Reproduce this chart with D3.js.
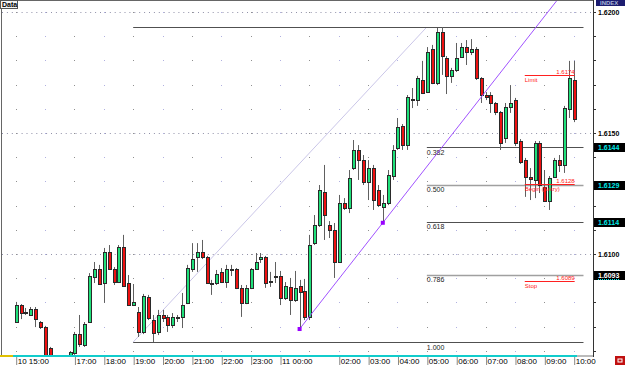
<!DOCTYPE html>
<html lang="en">
<head>
<meta charset="utf-8">
<title>INDEX M10</title>
<script src="https://cdn.jsdelivr.net/npm/d3@7"></script>
<style>
	body{margin:0;background:#fff;}
	svg{display:block;font-family:"Liberation Sans",Arial,sans-serif;}
	.tlabel{font-size:8px;fill:#000;}
	.plabel{font-size:7px;font-weight:bold;fill:#000;}
	.flabel{font-size:7px;fill:#222;}
	.olabel{font-size:6px;fill:#ff2020;}
	.blabel{font-size:7px;font-weight:bold;}
</style>
</head>
<body>
<div class="chart"></div>
<script>
// 10 minute bars, first bar 10th 15:00
var opens = [1.60719,1.60789,1.60760,1.60748,1.60773,1.60719,1.60698,1.60612,1.60521,1.60500,
	1.60512,1.60554,1.60591,1.60669,1.60624,1.60719,1.60905,1.60938,1.60880,1.61008,
	1.60938,1.60884,1.61029,1.60880,1.60789,1.60760,1.60678,1.60822,1.60727,1.60678,
	1.60748,1.60740,1.60707,1.60740,1.60740,1.60798,1.60938,1.60988,1.61008,1.60988,
	1.60882,1.60880,1.60926,1.60884,1.60938,1.60938,1.60860,1.60798,1.60860,1.60938,
	1.60979,1.60988,1.60888,1.60909,1.60909,1.60818,1.60864,1.60810,1.60868,1.60847,
	1.60740,1.61045,1.61120,1.61256,1.61120,1.61099,1.60967,1.61211,1.61190,1.61355,
	1.61430,1.61388,1.61298,1.61355,1.61264,1.61194,1.61211,1.61322,1.61438,1.61529,
	1.61450,1.61640,1.61636,1.61719,1.61669,1.61847,1.61707,1.61917,1.61810,1.61736,
	1.61760,1.61814,1.61855,1.61835,1.61847,1.61727,1.61657,1.61657,1.61624,1.61587,
	1.61479,1.61607,1.61636,1.61467,1.61388,1.61318,1.61306,1.61459,1.61277,1.61219,
	1.61318,1.61388,1.61368,1.61599,1.61719];
var highs = [1.60802,1.60793,1.60777,1.60781,1.60781,1.60723,1.60703,1.60616,1.60541,1.60529,
	1.60562,1.60599,1.60678,1.60748,1.60719,1.60921,1.60967,1.60955,1.61025,1.61037,
	1.60946,1.61037,1.61079,1.60913,1.60876,1.60781,1.60835,1.60831,1.60748,1.60769,
	1.60769,1.60748,1.60756,1.60748,1.60839,1.60955,1.61045,1.61045,1.61058,1.60992,
	1.60893,1.60934,1.60942,1.60955,1.60955,1.60942,1.60872,1.60872,1.60942,1.61004,
	1.61004,1.60992,1.60926,1.60967,1.60930,1.60884,1.60901,1.60930,1.60893,1.60897,
	1.61079,1.61161,1.61285,1.61368,1.61136,1.61128,1.61244,1.61231,1.61347,1.61471,
	1.61450,1.61409,1.61388,1.61368,1.61285,1.61244,1.61347,1.61450,1.61562,1.61537,
	1.61657,1.61686,1.61736,1.61798,1.61855,1.61864,1.61934,1.61938,1.61818,1.61769,
	1.61872,1.61872,1.61884,1.61888,1.61855,1.61731,1.61669,1.61669,1.61628,1.61591,
	1.61624,1.61698,1.61645,1.61475,1.61397,1.61355,1.61467,1.61467,1.61347,1.61322,
	1.61397,1.61409,1.61612,1.61798,1.61798];
var lows = [1.60715,1.60731,1.60748,1.60744,1.60698,1.60690,1.60554,1.60500,1.60459,1.60471,
	1.60500,1.60545,1.60583,1.60616,1.60616,1.60715,1.60880,1.60872,1.60798,1.60934,
	1.60872,1.60880,1.60864,1.60785,1.60785,1.60657,1.60669,1.60727,1.60636,1.60665,
	1.60719,1.60678,1.60694,1.60719,1.60694,1.60793,1.60926,1.60926,1.60979,1.60876,
	1.60831,1.60872,1.60880,1.60860,1.60909,1.60855,1.60740,1.60793,1.60855,1.60934,
	1.60963,1.60860,1.60864,1.60880,1.60789,1.60810,1.60748,1.60802,1.60694,1.60727,
	1.60727,1.61037,1.61112,1.61058,1.61066,1.60901,1.60963,1.61182,1.61169,1.61347,
	1.61306,1.61285,1.61223,1.61182,1.61194,1.61132,1.61202,1.61306,1.61430,1.61430,
	1.61430,1.61603,1.61612,1.61661,1.61665,1.61702,1.61698,1.61740,1.61661,1.61707,
	1.61752,1.61810,1.61781,1.61822,1.61719,1.61624,1.61636,1.61583,1.61574,1.61430,
	1.61459,1.61583,1.61446,1.61372,1.61236,1.61223,1.61231,1.61252,1.61215,1.61182,
	1.61314,1.61339,1.61335,1.61562,1.61545];
var closes = [1.60789,1.60756,1.60758,1.60773,1.60731,1.60698,1.60562,1.60521,1.60500,1.60512,
	1.60554,1.60595,1.60669,1.60628,1.60711,1.60909,1.60938,1.60876,1.61008,1.60938,
	1.60884,1.61029,1.60868,1.60789,1.60802,1.60678,1.60826,1.60736,1.60674,1.60748,
	1.60736,1.60707,1.60740,1.60738,1.60789,1.60942,1.60979,1.61008,1.60988,1.60880,
	1.60880,1.60917,1.60884,1.60938,1.60936,1.60860,1.60798,1.60860,1.60938,1.60967,
	1.60988,1.60880,1.60886,1.60907,1.60818,1.60868,1.60810,1.60860,1.60843,1.60740,
	1.61037,1.61120,1.61264,1.61161,1.61099,1.60967,1.61211,1.61190,1.61314,1.61430,
	1.61388,1.61298,1.61355,1.61223,1.61202,1.61211,1.61326,1.61430,1.61525,1.61450,
	1.61649,1.61638,1.61727,1.61665,1.61835,1.61707,1.61917,1.61818,1.61736,1.61760,
	1.61810,1.61855,1.61835,1.61847,1.61727,1.61657,1.61649,1.61624,1.61587,1.61459,
	1.61607,1.61624,1.61459,1.61380,1.61318,1.61310,1.61459,1.61285,1.61219,1.61314,
	1.61388,1.61368,1.61603,1.61727,1.61558];

var priceLabels = [1.6200, 1.6150, 1.6100];

// fibonacci retracement
var fibHigh = 1.61938, fibLow = 1.60636;
var fibLevels = [0, 0.382, 0.5, 0.618, 0.786, 1];
var fibBoxes = ["", "1.6144", "1.6129", "1.6114", "1.6093", ""];

// trend line anchors (bar index, price)
var trendBars = [58, 75];
var trendPrices = [1.60690, 1.61129];

// order lines
var orderNames = ["Limit", "Begin (Entry)", "Stop"];
var orderPrices = [1.6174, 1.61288, 1.6089];
var orderLabels = ["1.6174", "1.6128", "1.6089"];

var w = 625, h = 365;
var plotR = 593, plotB = 356;

var day = function(d, hh, mm){ return new Date(2009, 5, d, hh, mm || 0); };
var barTimes = opens.map(function(d, i){ return new Date(day(10, 15).getTime() + i * 600000); });

var x = d3.scaleTime().domain([day(10, 15), day(11, 10)]).range([15.7, 573.7]);
var y = d3.scaleLinear().domain([1.6100, 1.6200]).range([254, 12]);

var svg = d3.select("div.chart").append("svg")
	.attr("width", w).attr("height", h);

svg.append("defs").append("clipPath").attr("id", "plot")
	.append("rect").attr("x", 2).attr("y", 1).attr("width", plotR - 2).attr("height", plotB - 1);

// grid
var hours = d3.timeHour.range(day(10, 15), day(11, 10, 1));
var minor = d3.range(1.6060, 1.62001, 0.001);

var grid = svg.append("g").attr("clip-path", "url(#plot)");
priceLabels.forEach(function(p){
	grid.append("line")
		.attr("x1", 2).attr("x2", plotR).attr("y1", Math.round(y(p)) + 0.5).attr("y2", Math.round(y(p)) + 0.5)
		.attr("stroke", "#9090a8").attr("stroke-dasharray", "1,3.9");
});
hours.forEach(function(t, i){
	minor.forEach(function(p){
		grid.append("rect")
			.attr("x", Math.round(x(t))).attr("y", Math.round(y(p)))
			.attr("width", 1).attr("height", 1)
			.attr("fill", i % 2 ? "#b0b0e0" : "#909090");
	});
});

// fib
var fibPrice = function(lv){ return fibHigh - lv * (fibHigh - fibLow); };
var fibStart = day(10, 19), fibMid = day(11, 5), fibEnd = day(11, 10, 20);
var fib = svg.append("g");

fib.append("line")
	.attr("x1", x(fibStart)).attr("y1", y(fibLow))
	.attr("x2", x(fibMid)).attr("y2", y(fibHigh))
	.attr("stroke", "#cac6e8").attr("stroke-width", 1);

fib.selectAll(".fibline")
	.data(fibLevels)
	.enter()
	.append("line")
	.attr("class", "fibline")
	.attr("x1", d => x(d === 0 || d === 1 ? fibStart : fibMid))
	.attr("x2", x(fibEnd))
	.attr("y1", d => Math.round(y(fibPrice(d))) + 0.5)
	.attr("y2", d => Math.round(y(fibPrice(d))) + 0.5)
	.attr("stroke", d => (d === 0.5 || d === 0.786) ? "#a0a0a0" : "#505050")
	.attr("stroke-width", d => (d === 0.5 || d === 0.786) ? 1.6 : 1);

fib.selectAll(".flabel")
	.data(fibLevels.filter(d => d > 0))
	.enter()
	.append("text")
	.attr("class", "flabel")
	.attr("x", x(fibMid))
	.attr("y", d => y(fibPrice(d)) + 7.5)
	.text(d => d.toFixed(3));

// candles
var candles = opens.map(function(o, i){
	return {t: barTimes[i], o: o, h: highs[i], l: lows[i], c: closes[i]};
});
var cg = svg.append("g").attr("clip-path", "url(#plot)");

cg.selectAll(".wick")
	.data(candles)
	.enter()
	.append("line")
	.attr("class", "wick")
	.attr("x1", d => Math.round(x(d.t)) + 0.5)
	.attr("x2", d => Math.round(x(d.t)) + 0.5)
	.attr("y1", d => y(d.h))
	.attr("y2", d => y(d.l))
	.attr("stroke", "#606060");

cg.selectAll(".body")
	.data(candles)
	.enter()
	.append("rect")
	.attr("class", "body")
	.attr("x", d => Math.round(x(d.t)) - 1)
	.attr("y", d => Math.round(y(Math.max(d.o, d.c))))
	.attr("width", 3)
	.attr("height", d => Math.max(1, Math.round(Math.abs(y(d.o) - y(d.c)))))
	.attr("fill", d => d.c >= d.o ? "#1fe07a" : "#ee1111")
	.attr("stroke", "#2a2a2a")
	.attr("stroke-width", 1)
	.attr("shape-rendering", "crispEdges");

// trend line
var slope = (trendPrices[1] - trendPrices[0]) / (trendBars[1] - trendBars[0]);
var endBar = 118;
cg.append("line")
	.attr("x1", x(barTimes[trendBars[0]])).attr("y1", y(trendPrices[0]))
	.attr("x2", x(new Date(day(10, 15).getTime() + endBar * 600000)))
	.attr("y2", y(trendPrices[0] + slope * (endBar - trendBars[0])))
	.attr("stroke", "#a052ff").attr("stroke-width", 1);

cg.selectAll(".anchor")
	.data(trendBars)
	.enter()
	.append("rect")
	.attr("class", "anchor")
	.attr("x", d => x(barTimes[d]) - 2)
	.attr("y", (d, i) => y(trendPrices[i]) - 2)
	.attr("width", 4).attr("height", 4)
	.attr("fill", "#9900ff");

// order lines
var oStart = day(11, 8, 20), oEnd = day(11, 10, 2);
var og = svg.append("g");
orderPrices.forEach(function(p, i){
	var yy = Math.round(y(p)) + 0.5;
	og.append("line")
		.attr("x1", x(oStart)).attr("x2", x(oEnd)).attr("y1", yy).attr("y2", yy)
		.attr("stroke", "#ff2020").attr("stroke-width", 1);
	og.append("text").attr("class", "olabel")
		.attr("x", x(oEnd)).attr("y", yy - 1.5).attr("text-anchor", "end")
		.text(orderLabels[i]);
	og.append("text").attr("class", "olabel")
		.attr("x", x(oStart)).attr("y", yy + 6.5)
		.text(orderNames[i]);
});

// frame
svg.append("line").attr("x1", 18).attr("x2", plotR).attr("y1", 0.5).attr("y2", 0.5).attr("stroke", "#666");
svg.append("line").attr("x1", 1.5).attr("x2", 1.5).attr("y1", 8).attr("y2", plotB).attr("stroke", "#666");
svg.append("line").attr("x1", plotR + 0.5).attr("x2", plotR + 0.5).attr("y1", 0).attr("y2", plotB + 1).attr("stroke", "#333");
svg.append("line").attr("x1", 0).attr("x2", plotR).attr("y1", plotB).attr("y2", plotB).attr("stroke", "#777");
svg.append("line").attr("x1", 13).attr("x2", 577).attr("y1", plotB).attr("y2", plotB).attr("stroke", "#11cccc").attr("stroke-width", 2);
svg.append("line").attr("x1", 0).attr("x2", 13).attr("y1", plotB).attr("y2", plotB).attr("stroke", "#e0c000").attr("stroke-width", 2);

// price axis
var pAxis = svg.append("g");
minor.forEach(function(p){
	pAxis.append("line")
		.attr("x1", plotR).attr("x2", plotR + 3)
		.attr("y1", Math.round(y(p)) + 0.5).attr("y2", Math.round(y(p)) + 0.5)
		.attr("stroke", "#333");
});
var yAxis = d3.axisRight(y).tickValues(priceLabels).tickFormat(d3.format(".4f")).tickSize(0);
pAxis.append("g")
	.attr("transform", "translate(" + (plotR + 4) + ",0)")
	.call(yAxis)
	.call(g => g.select(".domain").remove())
	.selectAll("text")
	.attr("class", "plabel")
	.attr("x", 1)
	.attr("dy", "0.35em")
	.attr("font-family", null).attr("font-size", null);

fibLevels.forEach(function(lv, i){
	if (!fibBoxes[i]) return;
	var yy = Math.round(y(fibPrice(lv)));
	pAxis.append("rect")
		.attr("x", plotR + 1).attr("y", yy - 4).attr("width", w - plotR).attr("height", 9)
		.attr("fill", "#000");
	pAxis.append("text").attr("class", "blabel")
		.attr("x", plotR + 5).attr("y", yy + 3)
		.attr("fill", lv === 0.786 ? "#ffffff" : "#00e8e8")
		.text(fibBoxes[i]);
	if (lv === 0.786) {
		pAxis.append("line")
			.attr("x1", plotR + 5).attr("x2", plotR + 27).attr("y1", yy + 4.5).attr("y2", yy + 4.5)
			.attr("stroke", "#00e8e8").attr("stroke-dasharray", "1,1");
	}
});

pAxis.append("rect").attr("x", 596).attr("y", 0).attr("width", 29).attr("height", 6).attr("fill", "#1c1c70");
pAxis.append("text").attr("x", 600).attr("y", 5).attr("font-size", "6px").attr("font-weight", "bold")
	.attr("fill", "#a8b4d8").text("INDEX");

// time axis
var tickTimes = hours.filter(t => t.getHours() !== 16 && t.getHours() !== 1);
var fmtDay = d3.timeFormat("%d %H:%M"), fmtHour = d3.timeFormat("%H:%M");
var xAxis = d3.axisBottom(x)
	.tickValues(tickTimes)
	.tickFormat((d, i) => (i === 0 || d.getHours() === 0) ? fmtDay(d) : fmtHour(d))
	.tickSize(8);

svg.append("g")
	.attr("transform", "translate(0," + (plotB + 1) + ")")
	.call(xAxis)
	.call(g => g.select(".domain").remove())
	.call(g => g.selectAll(".tick line").attr("stroke", "#888").attr("transform", "translate(0.5,0)"))
	.selectAll("text")
	.attr("class", "tlabel")
	.attr("font-family", null).attr("font-size", null)
	.attr("text-anchor", "start")
	.attr("x", 1.5)
	.attr("y", 1)
	.attr("dy", "0.75em");

// corner widgets
svg.append("rect").attr("x", 0.5).attr("y", 0.5).attr("width", 17).attr("height", 8)
	.attr("fill", "#f4f4f4").attr("stroke", "#555");
svg.append("text").attr("x", 2).attr("y", 7).attr("font-size", "7px").attr("font-weight", "bold").text("Data");

svg.append("rect").attr("x", 615).attr("y", 356).attr("width", 10).attr("height", 9).attr("fill", "#c01010");
svg.append("rect").attr("x", 618).attr("y", 359).attr("width", 4).attr("height", 3).attr("fill", "none").attr("stroke", "#fff");
</script>
</body>
</html>
